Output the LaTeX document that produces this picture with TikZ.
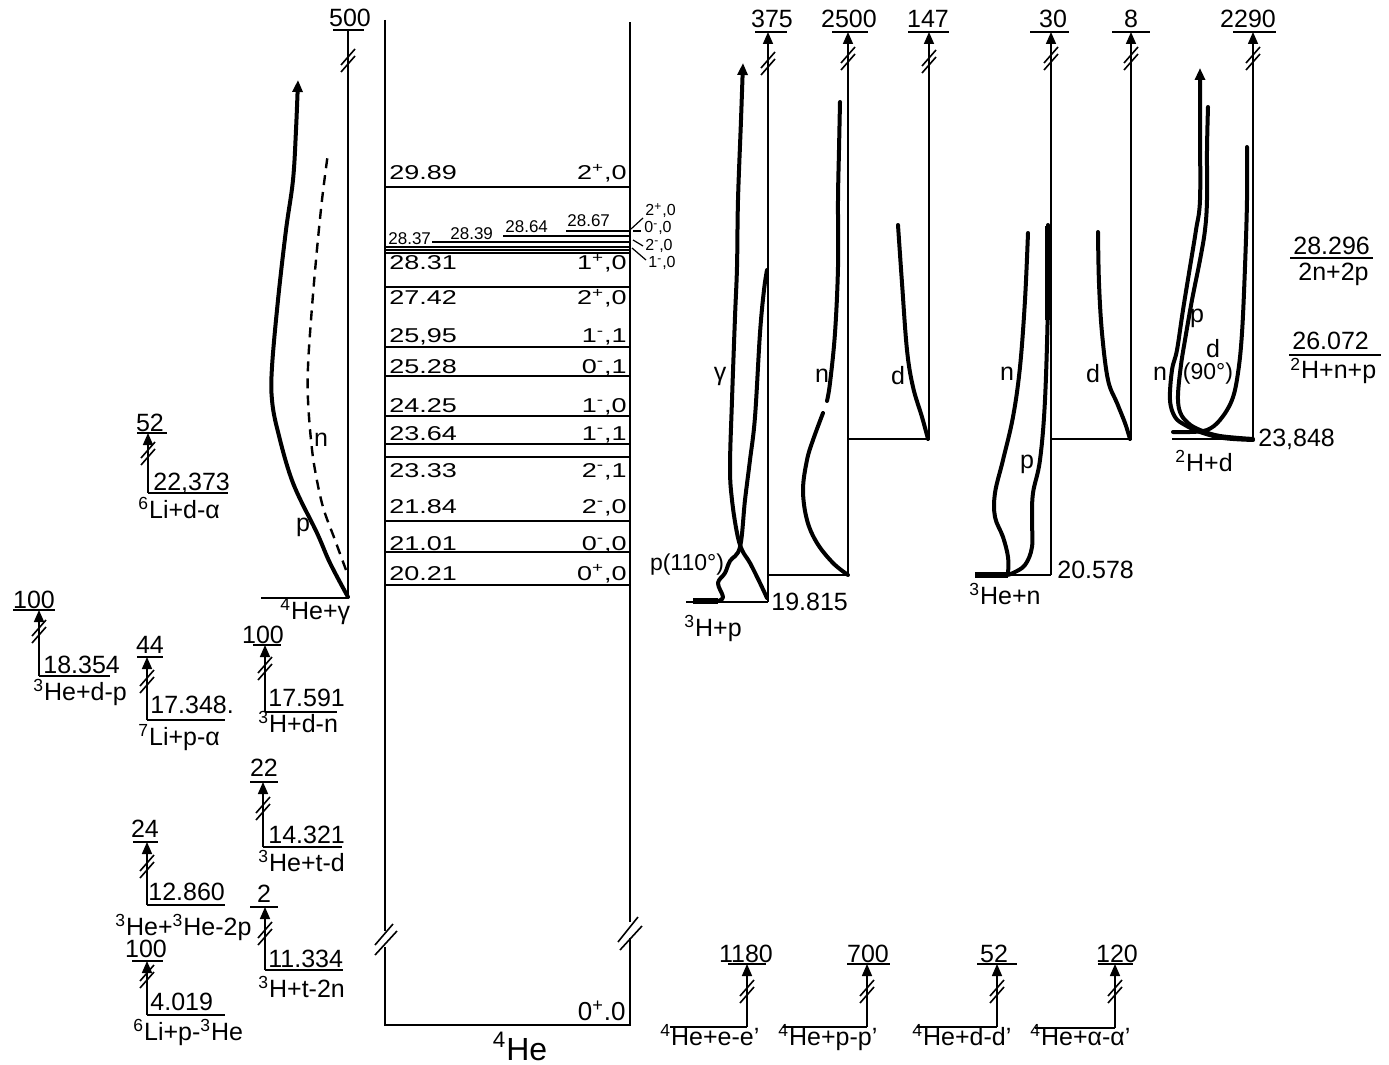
\documentclass[tikz,border=0pt]{standalone}
\usepackage{fontspec}
\setmainfont{Liberation Sans}
\newfontfamily\widefont{Liberation Sans}[FakeStretch=1.35]
\usetikzlibrary{arrows.meta}
\newcommand\spp{\textsuperscript{+}}
\newcommand\smm{\textsuperscript{-}}
\newcommand\brk[2]{%
  \draw[thn] ({#1-7},{#2+3}) -- ({#1+7},{#2-13});
  \draw[thn] ({#1-7},{#2+10}) -- ({#1+7},{#2-6});}
\newcommand\lstalk[4]{%
  \draw[thn,tip] (#1,#4) -- (#1,#2);
  \brk{#1}{#3}}
\tikzset{
  thn/.style={line width=0.8pt},
  hair/.style={line width=0.6pt},
  thk/.style={line width=2pt, line cap=round, line join=round},
  tip/.style={-{Triangle[length=6pt,width=5pt]}},
  lab/.style={inner sep=0pt, font=\fontsize{12.5}{14}\selectfont},
  clab/.style={inner sep=0pt, font=\widefont\fontsize{10}{12}\selectfont},
  slab/.style={inner sep=0pt, font=\fontsize{8.5}{10}\selectfont},
  jlab/.style={inner sep=0pt, font=\fontsize{8}{9}\selectfont},
  plab/.style={inner sep=0pt, font=\fontsize{11.5}{13}\selectfont},
}
\begin{document}
\begin{tikzpicture}[x=0.5pt,y=-0.5pt]
\useasboundingbox (0,0) rectangle (1389,1065);
\fill[white] (0,0) rectangle (1389,1065);

% ---------------- central 4He box ----------------
\draw[thn] (385,20) -- (385,931);
\draw[thn] (385,947) -- (385,1025) -- (630,1025) -- (630,938);
\draw[thn] (630,922) -- (630,22);
\draw[thn] (375,945) -- (393,924);
\draw[thn] (375,955) -- (397,931);
\draw[thn] (618,942) -- (638,917);
\draw[thn] (620,950) -- (642,926);
\foreach \y in {187,253,287,347,376,416,444,457,521,552,585}
  \draw[thn] (385,\y) -- (630,\y);
\draw[hair] (566,231) -- (630,231);
\draw[hair] (503,236) -- (630,236);
\draw[hair] (432,242) -- (630,242);
\draw[hair] (385,247) -- (630,247);
\draw[hair] (385,250) -- (630,250);
\foreach \y/\a/\b in {180/29.89/{2\spp,0},270/28.31/{1\spp,0},305/27.42/{2\spp,0},
  343/{25,95}/{1\smm,1},373/25.28/{0\smm,1},412/24.25/{1\smm,0},440/23.64/{1\smm,1},
  477/23.33/{2\smm,1},513/21.84/{2\smm,0},550/21.01/{0\smm,0},580/20.21/{0\spp,0}}{
  \node[clab,anchor=base west] (lvl\y) at (389,\y) {\a};
  \node[clab,anchor=base east] (jpi\y) at (627,\y) {\b};
}
\node[slab,anchor=base west] (l2867) at (567,227) {28.67};
\node[slab,anchor=base west] (l2864) at (505,233) {28.64};
\node[slab,anchor=base west] (l2839) at (450,240) {28.39};
\node[slab,anchor=base west] (l2837) at (388,245) {28.37};
\node[jlab,anchor=base west] (j1) at (645,216) {2\spp,0};
\node[jlab,anchor=base west] (j2) at (644,233) {0\smm,0};
\node[jlab,anchor=base west] (j3) at (645,250) {2\smm,0};
\node[jlab,anchor=base west] (j4) at (648,268) {1\smm,0};
\draw[hair] (631,229) -- (643,218);
\draw[hair] (633,231) -- (641,231);
\draw[hair] (633,240) -- (643,246);
\draw[hair] (632,248) -- (646,260);
\node[lab,anchor=base east,font=\fontsize{13}{15}\selectfont] (gs) at (626,1020) {0\spp.0};
\node[lab,anchor=base,font=\fontsize{16}{18}\selectfont] (he4) at (520,1060) {\textsuperscript{4}He};

% ---------------- 4He + gamma ----------------
\draw[thn] (348,598) -- (348,30);
\brk{348}{62}
\draw[thn] (333,30) -- (364,30);
\node[lab,anchor=base] (v500) at (350,27) {500};
\draw[thn] (261,598) -- (348,598);
\node[lab,anchor=base west] (rgam) at (280,619) {\textsuperscript{4}He+γ};
\draw[thk,tip] plot[smooth,tension=0.6] coordinates {(348,597) (330,563) (317,533) (293,483) (278,432) (272,400) (272,367) (278,300) (286,230) (293,180) (296,130) (298,80)};
\draw[line width=1.2pt,dash pattern=on 5pt off 3.5pt] plot[smooth,tension=0.6] coordinates {(346,570) (335,540) (323,507) (315,470) (311,440) (308,400) (308,367) (311,320) (316,260) (322,200) (328,153)};
\node[lab] (gp) at (303,527) {p};
\node[lab] (gn) at (321,440) {n};

% ---------------- 3H + p ----------------
\lstalk{768}{32}{65}{602}
\draw[thn] (755,32) -- (787,32);
\node[lab,anchor=base] (v375) at (772,28) {375};
\draw[thn] (686,602) -- (768,602);
\node[lab,anchor=base west] (th1) at (771,610) {19.815};
\node[lab,anchor=base west] (r3hp) at (684,636) {\textsuperscript{3}H+p};
\draw[thk,tip] plot[smooth,tension=0.6] coordinates {(767,598) (760,583) (750,563) (742,550) (737,533) (732,500) (730,467) (732,400) (735,317) (737,267) (738,200) (741,120) (743,63)};
\draw[thk] plot[smooth,tension=0.6] coordinates {(718,601) (723,597) (718,583) (725,573) (730,561) (740,547) (745,500) (750,460) (755,417) (760,333) (764,290) (767,270)};
\draw[line width=3pt] (693,601) -- (718,601);
\node[lab] (lgam) at (720,376) {γ};
\node[plab] (lp110) at (687,565) {p(110°)};

\lstalk{848}{32}{60}{575}
\draw[thn] (832,32) -- (868,32);
\node[lab,anchor=base] (v2500) at (849,28) {2500};
\draw[thn] (768,575) -- (848,575);
\draw[thk] plot[smooth,tension=0.6] coordinates {(840,102) (839,150) (838,200) (838,267) (835,333) (830,383) (827,401)};
\draw[thk] plot[smooth,tension=0.6] coordinates {(823,413) (813,440) (807,460) (803,490) (807,520) (817,543) (833,563) (848,575)};
\node[lab] (ln1) at (822,376) {n};

\lstalk{929}{32}{63}{439}
\draw[thn] (908,32) -- (949,32);
\node[lab,anchor=base] (v147) at (928,28) {147};
\draw[thn] (848,439) -- (929,439);
\draw[thk] plot[smooth,tension=0.6] coordinates {(898,225) (902,283) (907,350) (913,387) (922,417) (928,439)};
\node[lab] (ld1) at (898,376) {d};

% ---------------- 3He + n ----------------
\lstalk{1051}{32}{60}{575}
\draw[thn] (1030,32) -- (1069,32);
\node[lab,anchor=base] (v30) at (1053,28) {30};
\draw[thn] (975,575) -- (1051,575);
\node[lab,anchor=base west] (th2) at (1057,578) {20.578};
\node[lab,anchor=base west] (r3hen) at (969,604) {\textsuperscript{3}He+n};
\draw[thk] plot[smooth,tension=0.6] coordinates {(1028,233) (1025,300) (1020,367) (1013,417) (1003,460) (995,493) (995,517) (1003,537) (1008,557) (1008,574)};
\draw[line width=3pt] (975,575) -- (1008,575);
\draw[thk] plot[smooth,tension=0.6] coordinates {(1048,225) (1048,300) (1045,400) (1040,460) (1033,493) (1032,520) (1032,547) (1025,565) (1013,573) (1007,575)};
\draw[line width=3pt] (1048,226) -- (1048,320);
\node[lab] (ln2) at (1007,374) {n};
\node[lab] (lp2) at (1027,464) {p};

\lstalk{1131}{32}{60}{439}
\draw[thn] (1112,32) -- (1150,32);
\node[lab,anchor=base] (v8) at (1131,28) {8};
\draw[thn] (1051,439) -- (1131,439);
\draw[thk] plot[smooth,tension=0.6] coordinates {(1098,232) (1099,283) (1102,333) (1108,380) (1117,403) (1125,423) (1130,439)};
\node[lab] (ld2) at (1093,374) {d};

% ---------------- 2H + d ----------------
\lstalk{1253}{32}{60}{440}
\draw[thn] (1233,32) -- (1276,32);
\node[lab,anchor=base] (v2290) at (1248,28) {2290};
\draw[thn] (1172,439) -- (1253,439);
\node[lab,anchor=base west] (th3) at (1258,446) {23,848};
\node[lab,anchor=base west] (r2hd) at (1175,471) {\textsuperscript{2}H+d};
\draw[thk,tip] plot[smooth,tension=0.6] coordinates {(1253,440) (1223,438) (1200,432) (1185,425) (1175,417) (1170,400) (1172,370) (1177,350) (1183,310) (1190,267) (1196,230) (1200,200) (1200,130) (1200,68)};
\draw[thk] plot[smooth,tension=0.6] coordinates {(1253,439) (1220,436) (1200,430) (1188,423) (1180,412) (1178,395) (1181,365) (1185,340) (1192,300) (1200,260) (1205,230) (1207,200) (1207,150) (1208,107)};
\draw[thk] plot[smooth,tension=0.6] coordinates {(1173,432) (1190,432) (1207,430) (1220,420) (1232,400) (1238,373) (1242,333) (1245,267) (1247,200) (1247,147)};
\node[lab] (ln3) at (1160,374) {n};
\node[lab] (lp3) at (1197,318) {p};
\node[lab] (ld3) at (1213,349) {d};
\node[plab] (l90) at (1208,374) {(90°)};

% ---------------- far right ----------------
\node[lab,anchor=base west] (b1) at (1293,255) {28.296};
\draw[thn] (1290,258) -- (1373,258);
\node[lab,anchor=base west] (b1r) at (1298,281) {2n+2p};
\node[lab,anchor=base west] (b2) at (1292,350) {26.072};
\draw[thn] (1289,355) -- (1381,355);
\node[lab,anchor=base west] (b2r) at (1290,379) {\textsuperscript{2}H+n+p};

% ---------------- left side groups ----------------
\lstalk{148}{433}{455}{493}
\draw[thn] (137,433) -- (167,433);
\draw[thn] (148,493) -- (228,493);
\node[lab,anchor=base] (a1) at (150,431) {52};
\node[lab,anchor=base west] (a1e) at (153,490) {22,373};
\node[lab,anchor=base west] (a1r) at (138,518) {\textsuperscript{6}Li+d-α};

\lstalk{39}{610}{633}{676}
\draw[thn] (13,610) -- (55,610);
\draw[thn] (39,676) -- (110,676);
\node[lab,anchor=base] (a2) at (34,608) {100};
\node[lab,anchor=base west] (a2e) at (43,673) {18.354};
\node[lab,anchor=base west] (a2r) at (33,700) {\textsuperscript{3}He+d-p};

\lstalk{147}{657}{683}{720}
\draw[thn] (137,657) -- (163,657);
\draw[thn] (147,720) -- (225,720);
\node[lab,anchor=base] (a3) at (150,653) {44};
\node[lab,anchor=base west] (a3e) at (150,713) {17.348.};
\node[lab,anchor=base west] (a3r) at (138,745) {\textsuperscript{7}Li+p-α};

\lstalk{265}{645}{670}{712}
\draw[thn] (253,645) -- (281,645);
\draw[thn] (265,712) -- (337,712);
\node[lab,anchor=base] (a4) at (263,643) {100};
\node[lab,anchor=base west] (a4e) at (268,706) {17.591};
\node[lab,anchor=base west] (a4r) at (258,732) {\textsuperscript{3}H+d-n};

\lstalk{263}{782}{810}{847}
\draw[thn] (250,782) -- (278,782);
\draw[thn] (263,847) -- (342,847);
\node[lab,anchor=base] (a5) at (264,776) {22};
\node[lab,anchor=base west] (a5e) at (268,843) {14.321};
\node[lab,anchor=base west] (a5r) at (258,871) {\textsuperscript{3}He+t-d};

\lstalk{147}{842}{868}{905}
\draw[thn] (133,842) -- (158,842);
\draw[thn] (147,905) -- (225,905);
\node[lab,anchor=base] (a6) at (145,837) {24};
\node[lab,anchor=base west] (a6e) at (148,900) {12.860};
\node[lab,anchor=base west] (a6r) at (115,935) {\textsuperscript{3}He+\textsuperscript{3}He-2p};

\lstalk{265}{907}{935}{970}
\draw[thn] (250,907) -- (278,907);
\draw[thn] (265,970) -- (343,970);
\node[lab,anchor=base] (a7) at (264,902) {2};
\node[lab,anchor=base west] (a7e) at (268,967) {11.334};
\node[lab,anchor=base west] (a7r) at (258,997) {\textsuperscript{3}H+t-2n};

\lstalk{147}{961}{978}{1015}
\draw[thn] (132,961) -- (163,961);
\draw[thn] (147,1015) -- (225,1015);
\node[lab,anchor=base] (a8) at (146,957) {100};
\node[lab,anchor=base west] (a8e) at (150,1010) {4.019};
\node[lab,anchor=base west] (a8r) at (133,1040) {\textsuperscript{6}Li+p-\textsuperscript{3}He};

% ---------------- bottom right groups ----------------
\lstalk{747}{964}{993}{1027}
\draw[thn] (728,964) -- (766,964);
\draw[thn] (670,1027) -- (747,1027);
\node[lab,anchor=base] (c1) at (746,962) {1180};
\node[lab,anchor=base west] (c1r) at (660,1045) {\textsuperscript{4}He+e-e'};

\lstalk{867}{964}{993}{1027}
\draw[thn] (847,964) -- (890,964);
\draw[thn] (783,1027) -- (867,1027);
\node[lab,anchor=base] (c2) at (868,962) {700};
\node[lab,anchor=base west] (c2r) at (778,1045) {\textsuperscript{4}He+p-p'};

\lstalk{997}{964}{993}{1027}
\draw[thn] (977,964) -- (1017,964);
\draw[thn] (917,1027) -- (997,1027);
\node[lab,anchor=base] (c3) at (994,962) {52};
\node[lab,anchor=base west] (c3r) at (912,1045) {\textsuperscript{4}He+d-d'};

\lstalk{1115}{964}{993}{1028}
\draw[thn] (1098,964) -- (1133,964);
\draw[thn] (1035,1028) -- (1115,1028);
\node[lab,anchor=base] (c4) at (1117,962) {120};
\node[lab,anchor=base west] (c4r) at (1030,1045) {\textsuperscript{4}He+α-α'};
\end{tikzpicture}
\end{document}
